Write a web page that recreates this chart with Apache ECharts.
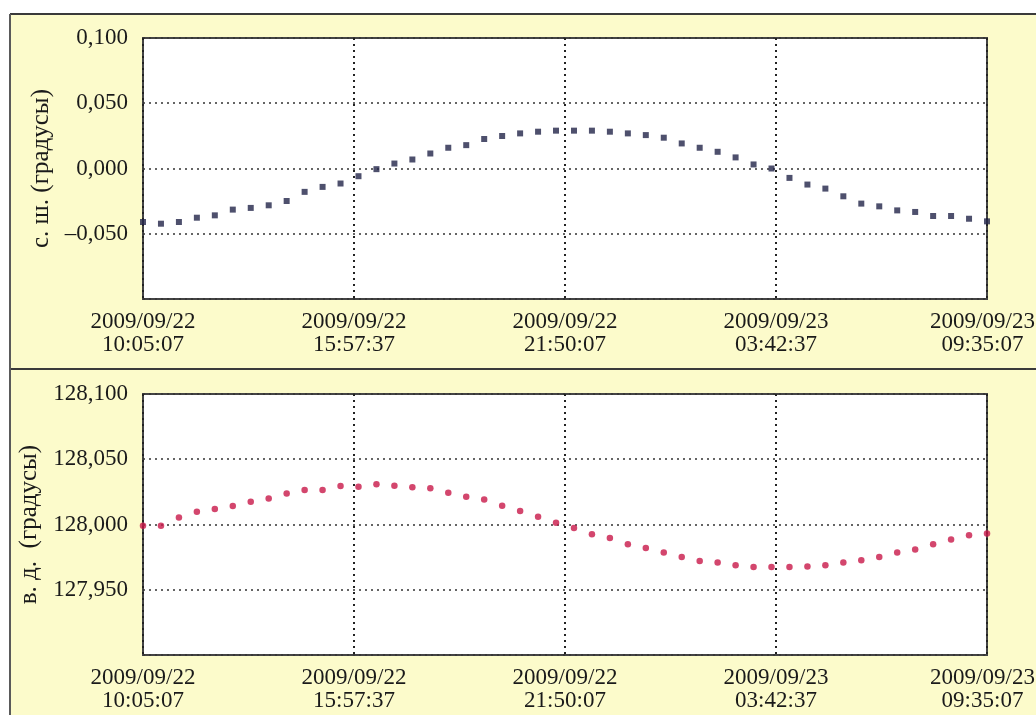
<!DOCTYPE html>
<html>
<head>
<meta charset="utf-8">
<script src="https://cdn.jsdelivr.net/npm/echarts@6/dist/echarts.min.js"></script>
<style>
html,body{margin:0;padding:0;background:#fff;}
#chart{width:1036px;height:715px;}
</style>
</head>
<body>
<div id="chart"></div>
<script>
// Sample times (every 30 min)
const sampleTimes = [
  "2009-09-22 10:05:07","2009-09-22 10:35:07","2009-09-22 11:05:07","2009-09-22 11:35:07",
  "2009-09-22 12:05:07","2009-09-22 12:35:07","2009-09-22 13:05:07","2009-09-22 13:35:07",
  "2009-09-22 14:05:07","2009-09-22 14:35:07","2009-09-22 15:05:07","2009-09-22 15:35:07",
  "2009-09-22 16:05:07","2009-09-22 16:35:07","2009-09-22 17:05:07","2009-09-22 17:35:07",
  "2009-09-22 18:05:07","2009-09-22 18:35:07","2009-09-22 19:05:07","2009-09-22 19:35:07",
  "2009-09-22 20:05:07","2009-09-22 20:35:07","2009-09-22 21:05:07","2009-09-22 21:35:07",
  "2009-09-22 22:05:07","2009-09-22 22:35:07","2009-09-22 23:05:07","2009-09-22 23:35:07",
  "2009-09-23 00:05:07","2009-09-23 00:35:07","2009-09-23 01:05:07","2009-09-23 01:35:07",
  "2009-09-23 02:05:07","2009-09-23 02:35:07","2009-09-23 03:05:07","2009-09-23 03:35:07",
  "2009-09-23 04:05:07","2009-09-23 04:35:07","2009-09-23 05:05:07","2009-09-23 05:35:07",
  "2009-09-23 06:05:07","2009-09-23 06:35:07","2009-09-23 07:05:07","2009-09-23 07:35:07",
  "2009-09-23 08:05:07","2009-09-23 08:35:07","2009-09-23 09:05:07","2009-09-23 09:35:07"
];

// Latitude (с. ш.), degrees
const latitude = [
  -0.0410,-0.0423,-0.0410,-0.0377,-0.0359,-0.0315,-0.0302,-0.0282,
  -0.0249,-0.0179,-0.0141,-0.0115,-0.0059,-0.0005,0.0038,0.0069,
  0.0115,0.0159,0.0179,0.0226,0.0249,0.0269,0.0282,0.0290,
  0.0290,0.0290,0.0282,0.0269,0.0256,0.0236,0.0192,0.0159,
  0.0128,0.0085,0.0031,0.0000,-0.0072,-0.0123,-0.0154,-0.0213,
  -0.0269,-0.0290,-0.0321,-0.0333,-0.0364,-0.0364,-0.0385,-0.0405
];

// Longitude (в. д.), degrees
const longitude = [
  127.9990,127.9990,128.0054,128.0097,128.0118,128.0141,128.0174,128.0200,
  128.0238,128.0264,128.0264,128.0295,128.0290,128.0308,128.0297,128.0285,
  128.0277,128.0244,128.0213,128.0192,128.0144,128.0103,128.0059,128.0013,
  127.9974,127.9926,127.9897,127.9849,127.9820,127.9785,127.9751,127.9721,
  127.9708,127.9687,127.9674,127.9674,127.9674,127.9679,127.9687,127.9708,
  127.9726,127.9751,127.9785,127.9808,127.9849,127.9885,127.9918,127.9931
];

const xTickLabels = [
  "2009/09/22\n10:05:07","2009/09/22\n15:57:37","2009/09/22\n21:50:07",
  "2009/09/23\n03:42:37","2009/09/23\n09:35:07"
];
const latTickLabels = ["", "–0,050", "0,000", "0,050", "0,100"];
const lonTickLabels = ["", "127,950", "128,000", "128,050", "128,100"];

const xSpan = 84600;      // seconds
const xStep = 21150;      // 5h52m30s
const t0 = new Date(sampleTimes[0].replace(' ', 'T')).getTime();
const xs = sampleTimes.map(s => (new Date(s.replace(' ', 'T')).getTime() - t0) / 1000);

const latData = xs.map((x, i) => [x, latitude[i]]);
const lonData = xs.map((x, i) => [x, longitude[i]]);

const FONT = "'Liberation Serif', 'DejaVu Serif', serif";
const TXT = '#1a1a1a';
const hLine = {show: true, lineStyle: {color: '#333333', width: 1.5, type: [2, 4]}};
const vLine = {show: true, lineStyle: {color: '#222222', width: 2, type: [2, 4]}};

function xAxis(gi) {
  return {
    type: 'value', gridIndex: gi, min: 0, max: xSpan, interval: xStep,
    axisLine: {show: false}, axisTick: {show: false},
    splitLine: vLine,
    axisLabel: {
      fontFamily: FONT, fontSize: 23, color: TXT, lineHeight: 23, margin: 11,
      showMinLabel: true, showMaxLabel: true,
      rich: {last: {fontFamily: FONT, fontSize: 23, color: TXT, lineHeight: 23, padding: [0, 9, 0, 0]}},
      formatter: v => {
        const i = Math.round(v / xStep);
        const s = xTickLabels[i] || '';
        if (i === xTickLabels.length - 1) {
          return s.split('\n').map(p => '{last|' + p + '}').join('\n');
        }
        return s;
      }
    }
  };
}
function yAxis(gi, min, labels, name, gap) {
  return {
    type: 'value', gridIndex: gi, min: min, max: min + 0.2, interval: 0.05,
    axisLine: {show: false}, axisTick: {show: false},
    splitLine: hLine,
    name: name, nameLocation: 'middle', nameRotate: 90, nameGap: gap,
    nameTextStyle: {fontFamily: FONT, fontSize: 25, color: TXT},
    axisLabel: {
      fontFamily: FONT, fontSize: 23, color: TXT, margin: 15,
      showMinLabel: true, showMaxLabel: true,
      formatter: v => labels[Math.round((v - min) / 0.05)] || ''
    }
  };
}

const chart = echarts.init(document.getElementById('chart'));
chart.setOption({
  backgroundColor: '#ffffff',
  animation: false,
  graphic: [
    {type: 'rect', z: -10, silent: true, shape: {x: 10, y: 14, width: 1026, height: 355}, style: {fill: '#fcfbcb'}},
    {type: 'rect', z: -10, silent: true, shape: {x: 10, y: 369, width: 1026, height: 346}, style: {fill: '#fcfbcb'}},
    {type: 'line', z: -9, silent: true, shape: {x1: 10, y1: 14, x2: 1036, y2: 14}, style: {stroke: '#3a3a3a', lineWidth: 2}},
    {type: 'line', z: -9, silent: true, shape: {x1: 10, y1: 369, x2: 1036, y2: 369}, style: {stroke: '#3a3a3a', lineWidth: 2}},
    {type: 'line', z: -9, silent: true, shape: {x1: 10, y1: 14, x2: 10, y2: 715}, style: {stroke: '#5a5a5a', lineWidth: 2}}
  ],
  grid: [
    {left: 143, top: 38, width: 844, height: 261, show: true, backgroundColor: '#ffffff', borderColor: '#444444', borderWidth: 2, outerBoundsMode: 'none', containLabel: false},
    {left: 143, top: 394, width: 844, height: 261, show: true, backgroundColor: '#ffffff', borderColor: '#444444', borderWidth: 2, outerBoundsMode: 'none', containLabel: false}
  ],
  xAxis: [xAxis(0), xAxis(1)],
  yAxis: [
    yAxis(0, -0.1, latTickLabels, 'с. ш. (градусы)', 86),
    yAxis(1, 127.9, lonTickLabels, 'в. д.  (градусы)', 97)
  ],
  series: [
    {type: 'scatter', xAxisIndex: 0, yAxisIndex: 0, data: latData, symbol: 'rect', symbolSize: 6,
     itemStyle: {color: '#222448'}},
    {type: 'scatter', xAxisIndex: 1, yAxisIndex: 1, data: lonData, symbol: 'circle', symbolSize: 6.5,
     itemStyle: {color: '#c81848'}}
  ]
});
</script>
</body>
</html>
